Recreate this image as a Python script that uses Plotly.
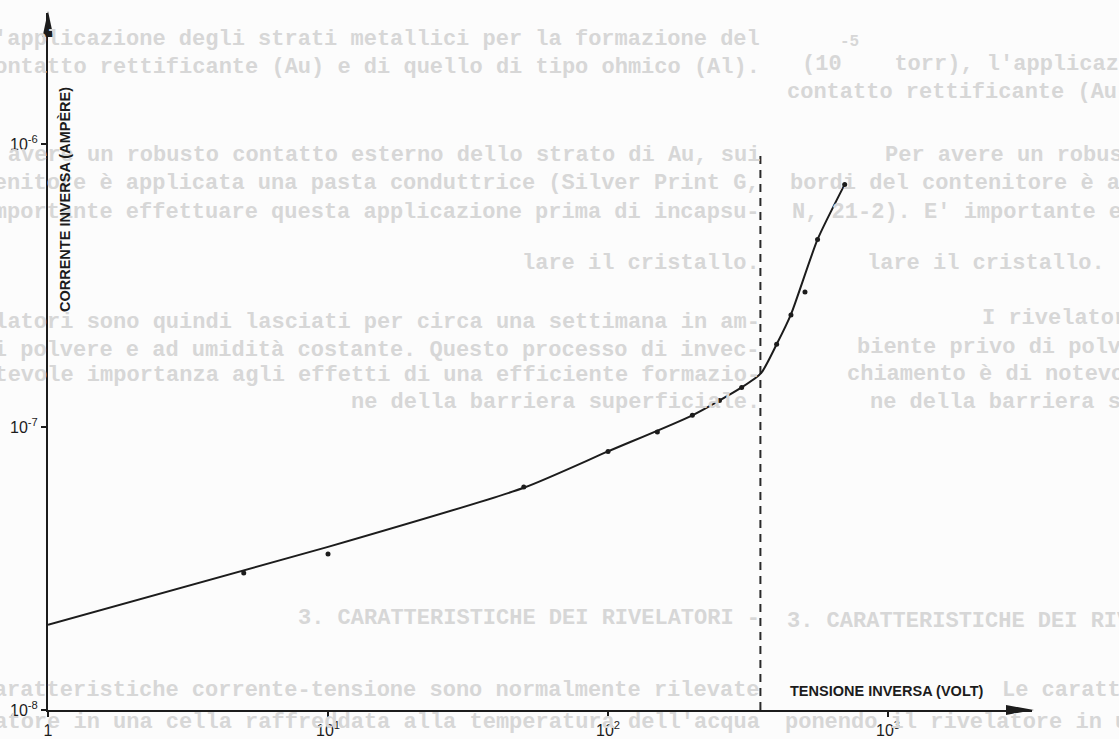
import plotly.graph_objects as go

# Reverse current of the detector vs reverse bias (log-log)
volt_meas = [5, 10, 50, 100, 150, 200, 250, 300, 400, 450, 505, 560, 700]
curr_meas = [3.05e-8, 3.56e-8, 6.14e-8, 8.2e-8, 9.6e-8, 1.10e-7, 1.24e-7, 1.38e-7,
             1.96e-7, 2.49e-7, 3.0e-7, 4.6e-7, 7.2e-7]

# smooth trend drawn through the measurements
volt_fit = [1, 10, 50, 100, 200, 300, 352, 400, 450, 560, 700]
curr_fit = [2.0e-8, 3.77e-8, 6.1e-8, 8.2e-8, 1.1e-7, 1.38e-7, 1.55e-7, 1.96e-7,
            2.5e-7, 4.6e-7, 7.2e-7]

# vertical dashed marker
v_mark = 350
v_mark_top = 9.4e-7

x_ticks = [1, 10, 100, 1000]
x_ticktext = ["1", "10<sup>1</sup>", "10<sup>2</sup>", "10<sup>3</sup>"]
y_ticks = [1e-8, 1e-7, 1e-6]
y_ticktext = ["10<sup>-8</sup>", "10<sup>-7</sup>", "10<sup>-6</sup>"]

# page text showing through the paper: (text, right-column x, right y, left-copy y)
page_rows = [
    ("(10    torr), l'applicazione degli strati metallici per la formazione del", 800, 65, 40),
    ("contatto rettificante (Au) e di quello di tipo ohmico (Al).", 785, 93, 68),
    ("Per avere un robusto contatto esterno dello strato di Au, sui", 883, 155, 155),
    ("bordi del contenitore è applicata una pasta conduttrice (Silver Print G,", 788, 183, 183),
    ("N, 21-2). E' importante effettuare questa applicazione prima di incapsu-", 790, 212, 212),
    ("lare il cristallo.", 865, 263, 263),
    ("I rivelatori sono quindi lasciati per circa una settimana in am-", 980, 318, 322),
    ("biente privo di polvere e ad umidità costante. Questo processo di invec-", 855, 347, 350),
    ("chiamento è di notevole importanza agli effetti di una efficiente formazio-", 845, 374, 376),
    ("ne della barriera superficiale.", 868, 402, 402),
    ("3. CARATTERISTICHE DEI RIVELATORI -", 785, 621, 618),
    ("Le caratteristiche corrente-tensione sono normalmente rilevate", 1000, 690, 690),
    ("ponendo il rivelatore in una cella raffreddata alla temperatura dell'acqua", 783, 722, 722),
]
left_copy_edge = 762

W, H = 1119, 739
ML, MR, MT, MB = 48, 87, 13, 29
PW, PH = W - ML - MR, H - MT - MB


def px_x(px):
    return (px - ML) / PW


def px_y(py):
    return (H - MB - py) / PH


ink = "#1c1c1c"
ghost = "#d7d7d7"
fig = go.Figure()

fig.add_trace(go.Scatter(
    x=[v_mark, v_mark], y=[1e-8, v_mark_top], mode="lines",
    line=dict(color="#2a2a2a", width=2, dash="8px,6px"),
    hoverinfo="skip", showlegend=False))

fig.add_trace(go.Scatter(
    x=volt_fit, y=curr_fit, mode="lines",
    line=dict(color=ink, width=2, shape="spline", smoothing=0.6),
    showlegend=False))

fig.add_trace(go.Scatter(
    x=volt_meas, y=curr_meas, mode="markers",
    marker=dict(color=ink, size=5),
    showlegend=False))

ghost_font = dict(family="Liberation Mono", size=22, color=ghost, weight="bold")
annotations = []
for text, xr, yr, yl in page_rows:
    annotations.append(dict(
        text=text, xref="paper", yref="paper", x=px_x(xr), y=px_y(yr),
        xanchor="left", yanchor="middle", showarrow=False, font=ghost_font))
    annotations.append(dict(
        text=text, xref="paper", yref="paper", x=px_x(left_copy_edge), y=px_y(yl),
        xanchor="right", yanchor="middle", showarrow=False, font=ghost_font))
annotations.append(dict(
    text="-5", xref="paper", yref="paper", x=px_x(838), y=px_y(42),
    xanchor="left", yanchor="middle", showarrow=False,
    font=dict(family="Liberation Mono", size=16, color=ghost, weight="bold")))

annotations.append(dict(
    text="CORRENTE INVERSA (AMPÈRE)", xref="paper", yref="paper",
    x=px_x(65), y=px_y(200), textangle=-90, showarrow=False,
    xanchor="center", yanchor="middle",
    font=dict(family="Liberation Sans", size=14.5, color=ink, weight="bold")))
annotations.append(dict(
    text="TENSIONE INVERSA (VOLT)", xref="paper", yref="paper",
    x=px_x(887), y=px_y(691), showarrow=False,
    xanchor="center", yanchor="middle",
    font=dict(family="Liberation Sans", size=14.5, color=ink, weight="bold")))

shapes = [
    dict(type="path", xref="paper", yref="paper", xsizemode="pixel", ysizemode="pixel",
         xanchor=0, yanchor=1, path="M0,2 L-5.5,-24 L5.5,-24 Z",
         fillcolor=ink, line=dict(width=0)),
    dict(type="path", xref="paper", yref="paper", xsizemode="pixel", ysizemode="pixel",
         xanchor=1, yanchor=0, path="M2,0 L-26,5 L-26,-5 Z",
         fillcolor=ink, line=dict(width=0)),
]

fig.update_layout(
    width=W, height=H, autosize=False,
    margin=dict(l=ML, r=MR, t=MT, b=MB),
    paper_bgcolor="#fcfcfc", plot_bgcolor="rgba(0,0,0,0)",
    annotations=annotations, shapes=shapes,
    font=dict(family="Liberation Sans", color=ink),
)
fig.update_xaxes(
    type="log", range=[0, 3.514], showline=True, linecolor=ink, linewidth=2,
    ticks="outside", ticklen=5, tickwidth=2, tickcolor=ink,
    tickvals=x_ticks, ticktext=x_ticktext, showgrid=False, zeroline=False,
    tickfont=dict(size=16, color=ink), automargin=False)
fig.update_yaxes(
    type="log", range=[-8, -5.537], showline=True, linecolor=ink, linewidth=2,
    ticks="outside", ticklen=5, tickwidth=2, tickcolor=ink,
    tickvals=y_ticks, ticktext=y_ticktext, showgrid=False, zeroline=False,
    tickfont=dict(size=16, color=ink), automargin=False)

fig.write_html("out.html")
